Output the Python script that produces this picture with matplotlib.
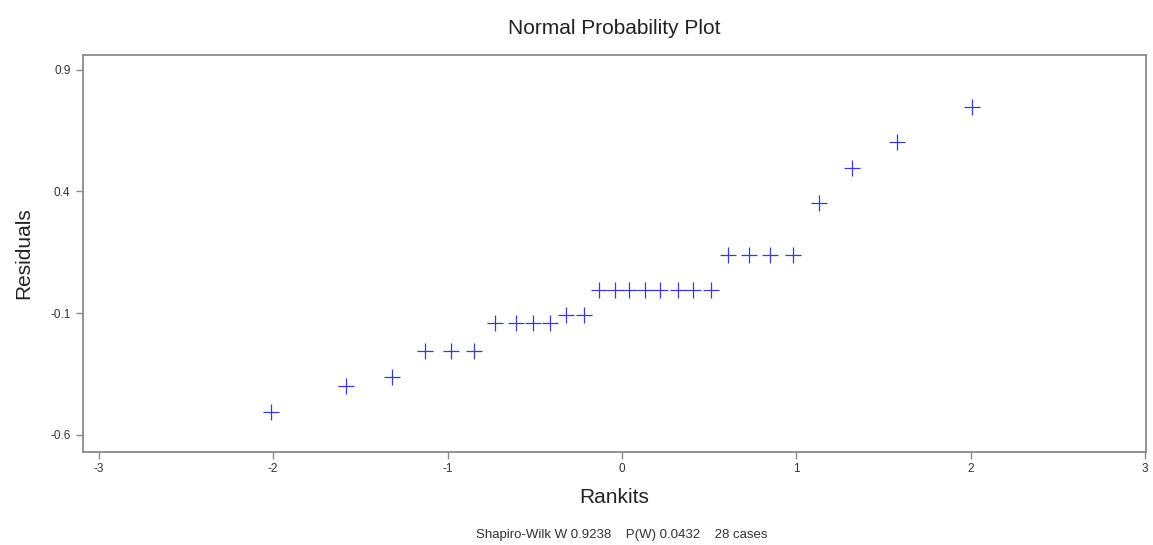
import matplotlib
matplotlib.use("Agg")
import matplotlib.pyplot as plt

plt.rcParams['font.family'] = ['Liberation Sans', 'DejaVu Sans']
plt.rcParams['axes.unicode_minus'] = False

# Data
rankits = [-2.01, -1.58, -1.32, -1.13, -0.98, -0.85, -0.73, -0.61, -0.51, -0.41,
           -0.32, -0.22, -0.13, -0.04, 0.04, 0.13, 0.22, 0.32, 0.41, 0.51,
           0.61, 0.73, 0.85, 0.98, 1.13, 1.32, 1.58, 2.01]
residuals = [-0.506, -0.400, -0.362, -0.255, -0.255, -0.255, -0.140, -0.140, -0.140, -0.140,
             -0.108, -0.108, -0.005, -0.005, -0.005, -0.005, -0.005, -0.005, -0.005, -0.005,
             0.138, 0.138, 0.138, 0.138, 0.353, 0.497, 0.604, 0.745]
xticks = [-3, -2, -1, 0, 1, 2, 3]
xticklabels = ["-3", "-2", "-1", "0", "1", "2", "3"]
yticks = [-0.6, -0.1, 0.4, 0.9]
yticklabels = ["-0.6", "-0.1", "0.4", "0.9"]

fig = plt.figure(figsize=(11.53, 5.45), dpi=100)
ax = fig.add_axes([83/1153, 93/545, (1146-83)/1153, (452-55)/545])

ax.plot(rankits, residuals, linestyle='none', marker='+', markersize=12,
        markeredgewidth=0.9, color='#3a3ad0')

ax.set_xlim(-3.09, 3.005)
ax.set_ylim(-0.671, 0.960)
ax.set_xticks(xticks)
ax.set_xticklabels(xticklabels)
ax.set_yticks(yticks)
ax.set_yticklabels(yticklabels)

for s in ax.spines.values():
    s.set_color('#8a8a8a')
    s.set_linewidth(1.3)
ax.tick_params(axis='both', direction='out', length=5, width=1, color='#8a8a8a',
               labelsize=8.5, labelcolor='#333333')
ax.tick_params(axis='y', pad=4)
ax.tick_params(axis='x', pad=3)

ax.set_title("Normal Probability Plot", fontsize=15, color='#222222', pad=15)
ax.set_xlabel("Rankits", fontsize=15, color='#222222', labelpad=9)
ax.set_ylabel("Residuals", fontsize=15, color='#222222', labelpad=12)

fig.text(622/1153, 1 - 535/545, "Shapiro-Wilk W 0.9238    P(W) 0.0432    28 cases",
         ha='center', va='center', fontsize=9.5, color='#333333')

fig.savefig("out.png", dpi=100)
